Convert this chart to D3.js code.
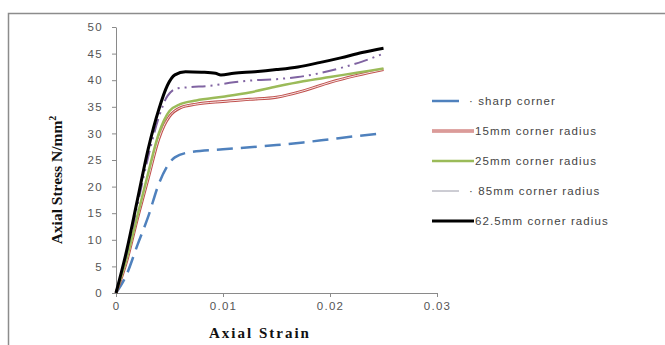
<!DOCTYPE html>
<html>
<head>
<meta charset="utf-8">
<script src="https://cdn.jsdelivr.net/npm/d3@7"></script>
<style>
  body { margin: 0; background: #fff; }
  svg { display: block; }
</style>
</head>
<body>
<div id="chart"></div>
<script>
// series data: [strain, stress]
const sharpCorner = [[0,0],[0.001,3.5],[0.002,9],[0.003,14.3],[0.004,20.5],[0.0047,23.5],[0.0055,25.5],[0.007,26.5],[0.01,27],[0.0125,27.4],[0.015,27.8],[0.0175,28.3],[0.02,28.9],[0.0225,29.5],[0.025,30]];
const r15 = [[0,0],[0.001,6],[0.002,14],[0.003,21.5],[0.004,29],[0.0045,31.5],[0.005,33.2],[0.006,34.8],[0.0075,35.5],[0.01,36],[0.0125,36.4],[0.015,36.8],[0.0175,38],[0.02,39.6],[0.0225,40.9],[0.025,42]];
const r25 = [[0,0],[0.001,6.5],[0.002,14.5],[0.003,22.5],[0.004,30],[0.0045,32.5],[0.005,34.2],[0.006,35.5],[0.0075,36.2],[0.01,36.9],[0.0125,37.7],[0.015,38.8],[0.0175,39.8],[0.02,40.6],[0.0225,41.4],[0.025,42.2]];
const r85 = [[0,0],[0.001,7.5],[0.002,16.5],[0.003,25.5],[0.004,33],[0.0048,37],[0.0058,38.5],[0.007,38.7],[0.009,39],[0.011,39.6],[0.013,40],[0.015,40.2],[0.017,40.6],[0.019,41.3],[0.021,42.3],[0.023,43.5],[0.025,45]];
const r625 = [[0,0],[0.001,8],[0.002,17.5],[0.003,27],[0.004,34.5],[0.0048,39],[0.0055,41],[0.0065,41.6],[0.008,41.5],[0.0093,41.3],[0.0098,41],[0.011,41.3],[0.013,41.6],[0.015,42],[0.017,42.5],[0.019,43.3],[0.021,44.2],[0.023,45.2],[0.025,46]];

const seriesNames = ["· sharp corner", "15mm corner radius", "25mm corner radius", "· 85mm corner radius", "62.5mm corner radius"];
const xTicks = [0, 0.01, 0.02, 0.03];
const yTicks = [0, 5, 10, 15, 20, 25, 30, 35, 40, 45, 50];

const width = 665, height = 345;
const margin = { top: 27, right: 228, bottom: 52, left: 116 };

const svg = d3.select("#chart").append("svg")
    .attr("width", width)
    .attr("height", height);

// outer chart frame
svg.append("path")
    .attr("d", "M8.5,345 V13.5 H665")
    .attr("fill", "none")
    .attr("stroke", "#8c8c8c")
    .attr("stroke-width", 1.5);

const x = d3.scaleLinear().domain([0, 0.03]).range([margin.left, width - margin.right]);
const y = d3.scaleLinear().domain([0, 50]).range([height - margin.bottom, margin.top]);

// axes
const yAxis = svg.append("g")
    .attr("transform", `translate(${margin.left},0)`)
    .call(d3.axisLeft(y).tickValues(yTicks).tickSize(4).tickSizeOuter(0).tickFormat(d3.format("d")));
const xAxis = svg.append("g")
    .attr("transform", `translate(0,${height - margin.bottom})`)
    .call(d3.axisBottom(x).tickValues(xTicks).tickSize(4).tickSizeOuter(0).tickFormat(d => d === 0 ? "0" : d3.format(".2f")(d)));

[xAxis, yAxis].forEach(g => {
    g.select(".domain").attr("stroke", "#8a8a8a");
    g.selectAll(".tick line").attr("stroke", "#8a8a8a");
    g.selectAll(".tick text")
        .attr("fill", "#555")
        .style("font", "11.5px 'Liberation Sans', Arial, sans-serif")
        .style("letter-spacing", "1.3px");
});
yAxis.selectAll(".tick text").attr("x", -13);
xAxis.selectAll(".tick text").attr("y", 9);

// axis titles
svg.append("text")
    .attr("x", 260)
    .attr("y", 338)
    .attr("text-anchor", "middle")
    .style("font", "bold 15px 'Liberation Serif', 'Times New Roman', serif")
    .style("letter-spacing", "2px")
    .attr("fill", "#111")
    .text("Axial Strain");

const yTitle = svg.append("text")
    .attr("transform", "translate(62,180) rotate(-90)")
    .attr("text-anchor", "middle")
    .style("font", "bold 15.5px 'Liberation Serif', 'Times New Roman', serif")
    .attr("fill", "#111");
yTitle.append("tspan").text("Axial Stress N/mm");
yTitle.append("tspan").attr("dy", -6).style("font-size", "10px").text("2");

// lines
const line = d3.line()
    .x(d => x(d[0]))
    .y(d => y(d[1]))
    .curve(d3.curveMonotoneX);

const styles = [
    { data: sharpCorner, color: "#4f81bd", w: 2.5, dash: "16,8", legendX2: 27 },
    { data: r15, color: "#c0504d", w: 3, dash: null, hollow: true },
    { data: r25, color: "#9bbb59", w: 2.5, dash: null },
    { data: r85, color: "#8064a2", w: 2, dash: "14,5,2,5,2,5", legendColor: "#9a9aa8", legendW: 1, legendX2: 27 },
    { data: r625, color: "#000", w: 3, dash: null }
];

const plot = svg.append("g");
styles.forEach(s => {
    plot.append("path")
        .datum(s.data)
        .attr("fill", "none")
        .attr("stroke", s.color)
        .attr("stroke-width", s.w)
        .attr("stroke-dasharray", s.dash)
        .attr("stroke-linejoin", "round")
        .attr("d", line);
    if (s.hollow) {
        plot.append("path")
            .datum(s.data)
            .attr("fill", "none")
            .attr("stroke", "#f6e6e6")
            .attr("stroke-width", 1)
            .attr("d", line);
    }
});

// legend
const legend = svg.append("g")
    .style("font", "11.5px 'Liberation Sans', Arial, sans-serif")
    .style("letter-spacing", "1.1px");

const legendItem = legend.selectAll("g")
    .data(styles)
    .enter().append("g")
    .attr("transform", (d, i) => `translate(432,${101 + i * 30})`);

legendItem.append("line")
    .attr("x1", 0).attr("x2", d => d.legendX2 || 42)
    .attr("stroke", d => d.legendColor || d.color)
    .attr("stroke-width", d => d.legendW || d.w);

legendItem.filter(d => d.hollow).append("line")
    .attr("x1", 0).attr("x2", 42)
    .attr("stroke", "#f6e6e6")
    .attr("stroke-width", 1);

legendItem.append("text")
    .attr("x", (d, i) => i === 0 || i === 3 ? 37 : 43)
    .attr("dy", "0.35em")
    .attr("fill", "#444")
    .text((d, i) => seriesNames[i]);
</script>
</body>
</html>
